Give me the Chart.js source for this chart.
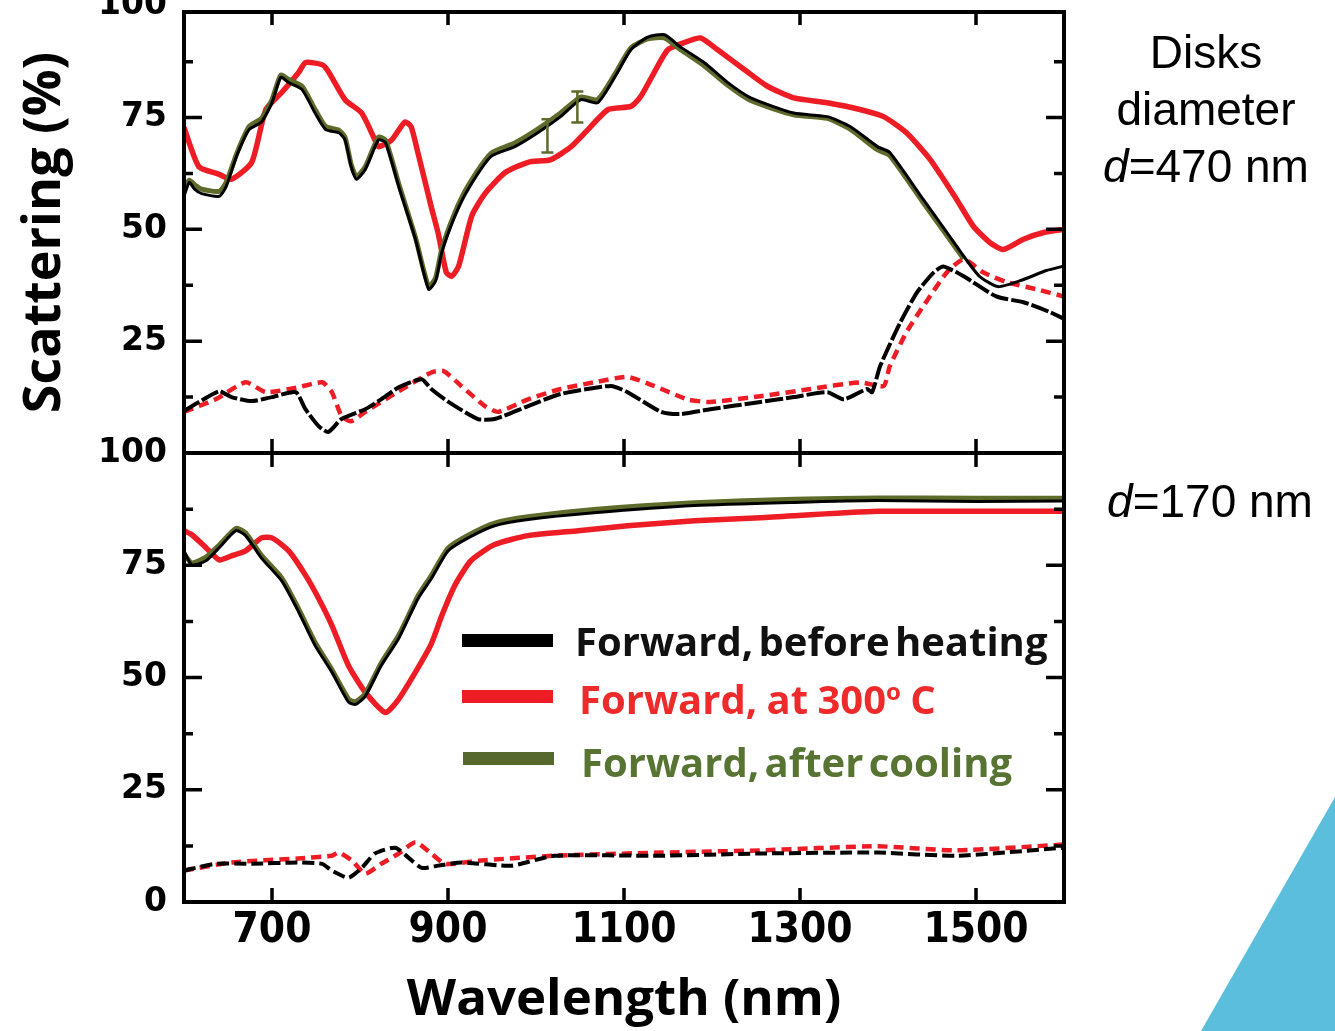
<!DOCTYPE html>
<html>
<head>
<meta charset="utf-8">
<script src="https://cdn.jsdelivr.net/npm/chart.js@4.4.1/dist/chart.umd.min.js"></script>
<style>
    body { margin: 0; background: #fff; }
    #wrap { position: relative; width: 1335px; height: 1031px; overflow: hidden; background: #fff; }
    #scatterChart { position: absolute; left: 0; top: 0; }
    .note { position: absolute; width: 252px; text-align: center; font-family: 'Liberation Sans', Arial, sans-serif; font-size: 46px; line-height: 57px; color: #000; }
    .key { position: absolute; font-family: 'Open Sans', sans-serif; font-weight: 700; font-size: 40px; line-height: 1; white-space: nowrap; }
    .key sup { font-size: 24px; vertical-align: 14px; line-height: 0; }
    .swatch { position: absolute; width: 91px; height: 13px; }
    #corner { position: absolute; left: 1201px; top: 797px; width: 134px; height: 234px; background: #5bbedc; clip-path: polygon(100% 0, 0 100%, 100% 100%); }
</style>
</head>
<body>
<div id="wrap">
    <canvas id="scatterChart" width="1335" height="1031"></canvas>

    <div class="note" style="left:1080px; top:24px;">Disks<br>diameter<br><i>d</i>=470 nm</div>
    <div class="note" style="left:1084px; top:473px;"><i>d</i>=170 nm</div>

    <div class="swatch" style="left:462px; top:634px; background:#000;"></div>
    <div class="key" style="left:575px; top:621px; color:#111; word-spacing:-5px;">Forward, before heating</div>
    <div class="swatch" style="left:462px; top:690px; background:#ee1d25;"></div>
    <div class="key" style="left:579px; top:679px; color:#ee2a2a; word-spacing:-1px;">Forward, at 300<sup>o</sup> C</div>
    <div class="swatch" style="left:463px; top:752px; background:#56682d;"></div>
    <div class="key" style="left:581px; top:742px; color:#587433; word-spacing:-5px;">Forward, after cooling</div>

    <div id="corner"></div>
</div>

<script>
// wavelength (nm), scattering (%) pairs
// disks d = 470 nm
var top470Before = [[600, 57.4], [606, 60.5], [612, 59], [620, 58], [640, 57.4], [648, 59.6], [660, 66.5], [674, 72.3],
    [688, 74], [700, 78.3], [710, 84], [719, 82.8], [734, 81.3], [749, 76], [761, 72.3], [776, 71.6], [783, 70],
    [790, 64], [796, 61.2], [806, 63.4], [821, 70], [829, 69.4], [844, 59.6], [863, 47.8], [878, 36.6], [886, 38.5],
    [893, 44.9], [908, 53], [923, 59], [949, 66.3], [976, 68.5], [1002, 71.6], [1028, 75.2], [1051, 79], [1070, 78.3],
    [1090, 84.2], [1108, 90.2], [1127, 93], [1146, 93.5], [1164, 90.8], [1191, 87.3], [1218, 82.8], [1244, 79.4],
    [1293, 76], [1331, 75.2], [1357, 73], [1388, 68.5], [1402, 67.2], [1440, 56.7], [1467, 49.3], [1486, 44],
    [1504, 39.5], [1525, 37.2], [1554, 38.8], [1580, 40.8], [1600, 41.8]];
var top470Heated = [[600, 72.8], [617, 64], [640, 62.3], [654, 61.2], [677, 65], [693, 76.8], [711, 80.6], [730, 85],
    [738, 87.3], [757, 86.8], [764, 85.3], [783, 79], [802, 76], [817, 70], [821, 68.5], [836, 70], [851, 74], [858, 73],
    [866, 67], [881, 55], [889, 49], [898, 40.4], [904, 39.5], [912, 41.7], [927, 53], [942, 58], [965, 62.7], [991, 65],
    [1017, 65.6], [1040, 68.5], [1059, 72.3], [1082, 76.8], [1108, 77.5], [1119, 79.7], [1138, 86.4], [1150, 90.2],
    [1172, 92], [1187, 92.8], [1206, 90.2], [1237, 85.7], [1263, 82], [1293, 79.4], [1331, 78.3], [1368, 76.8],
    [1395, 75.2], [1421, 71.6], [1448, 65.6], [1478, 56.7], [1497, 50.7], [1516, 47], [1531, 45.5], [1554, 47.8],
    [1577, 49.3], [1600, 50]];
var top470Cooled = [[600, 59], [606, 61], [612, 60], [620, 59], [640, 58.5], [648, 60.5], [660, 67], [674, 73],
    [688, 74.8], [700, 79], [710, 84.5], [719, 83.5], [734, 82], [749, 76.8], [761, 73], [776, 72.2], [783, 70.6],
    [790, 64.5], [796, 61.8], [806, 64], [821, 70.6], [829, 70], [844, 60.2], [863, 48.2], [878, 37.2], [886, 39.2],
    [893, 45.6], [908, 53.8], [923, 59.8], [949, 67], [976, 69.3], [1002, 72.4], [1028, 76], [1051, 79.6], [1070, 79],
    [1090, 84.8], [1108, 90.6], [1127, 92.6], [1146, 92.8], [1164, 90.2], [1191, 86.6], [1218, 82.2], [1244, 78.8],
    [1293, 75.6], [1331, 74.8], [1357, 72.4], [1388, 67.8], [1402, 66.5], [1440, 56], [1467, 48.6], [1486, 43.4]];
var top470BeforeLow = [[600, 9.4], [617, 11.4], [640, 13.8], [654, 12.5], [677, 11.6], [700, 12.5], [727, 13.6],
    [738, 9.8], [753, 6], [764, 4.7], [779, 7.6], [806, 9.8], [824, 12], [844, 14.7], [870, 16.5], [881, 14.3],
    [900, 11.5], [934, 7.6], [953, 7.6], [991, 10.5], [1028, 13.2], [1085, 15], [1104, 13.6], [1142, 9.2], [1164, 8.7],
    [1198, 9.8], [1255, 11.4], [1293, 12.5], [1331, 13.6], [1350, 12], [1376, 14.3], [1382, 13.6], [1391, 19.4],
    [1414, 29.2], [1433, 35.9], [1452, 40.4], [1463, 41.7], [1486, 39.5], [1523, 35], [1554, 33.7], [1584, 31.5],
    [1600, 30]];
var top470HeatedLow = [[600, 9.2], [636, 12], [670, 15.8], [693, 13.6], [730, 14.7], [757, 15.8], [768, 13.6],
    [779, 8.3], [790, 7.1], [806, 9.2], [844, 13.8], [881, 18], [895, 18.3], [915, 15], [942, 10.5], [957, 9.2],
    [991, 12], [1028, 14.3], [1066, 15.8], [1104, 17], [1134, 15], [1172, 12], [1198, 11.4], [1255, 12.7], [1312, 14.3],
    [1368, 15.8], [1395, 15], [1402, 19.4], [1421, 27], [1440, 32.8], [1467, 40.4], [1486, 43.3], [1508, 40.4],
    [1535, 38.2], [1569, 36.6], [1600, 35]];

// disks d = 170 nm
var bot170Before = [[600, 78.2], [609, 75], [625, 76], [640, 78.9], [659, 82.7], [670, 81.6], [688, 76.6], [711, 71.5],
    [730, 64.7], [749, 57.1], [768, 51.2], [787, 44.5], [795, 44], [806, 45.8], [824, 52.6], [844, 58.7], [866, 67.6],
    [881, 72], [900, 78.2], [923, 81.1], [953, 83.8], [991, 85.2], [1066, 86.7], [1180, 88.3], [1293, 89], [1388, 89.4],
    [1500, 89.2], [1600, 89.3]];
var bot170Heated = [[600, 82.7], [609, 81.8], [625, 78.9], [640, 76.2], [654, 77.1], [670, 78.2], [688, 81.1],
    [700, 81.1], [719, 78.2], [738, 72.8], [753, 67.6], [768, 61.6], [787, 52.6], [806, 46.7], [829, 42.2], [844, 45.2],
    [863, 51.2], [881, 57.5], [893, 63.8], [908, 70.6], [926, 76], [953, 79.6], [991, 81.6], [1048, 82.7], [1104, 83.8],
    [1180, 84.9], [1255, 85.6], [1388, 87], [1500, 87], [1600, 87]];
var bot170Cooled = [[600, 77.5], [609, 75.5], [625, 76.8], [640, 79.5], [659, 83.2], [670, 82.2], [688, 77.2],
    [711, 72.2], [730, 65.4], [749, 57.8], [768, 51.8], [787, 45.2], [795, 44.6], [806, 46.4], [824, 53.2], [844, 59.4],
    [866, 68.2], [881, 72.7], [900, 78.8], [923, 81.7], [953, 84.4], [991, 85.8], [1066, 87.4], [1180, 88.9],
    [1293, 89.7], [1388, 90], [1500, 89.9], [1600, 89.9]];
var bot170BeforeLow = [[600, 7], [636, 8.5], [677, 8.5], [730, 8.8], [757, 8.5], [768, 7], [787, 5.4], [802, 7.6],
    [817, 10.8], [840, 12.1], [855, 9.9], [870, 7.6], [889, 8.1], [915, 8.8], [972, 8.1], [1021, 10.3], [1142, 10.3],
    [1255, 10.8], [1388, 11], [1478, 10.3], [1600, 12.1]];
var bot170HeatedLow = [[600, 7], [654, 8.8], [730, 9.7], [768, 10.3], [776, 11], [791, 9.2], [806, 6.3], [824, 8.5],
    [844, 10.8], [863, 13.3], [881, 10.8], [897, 8.5], [934, 9.2], [1021, 10.3], [1142, 11], [1255, 11.5], [1388, 12.4],
    [1478, 11.5], [1600, 12.8]];

// error bars on the cooled d=470 curve
var coolErrNm = [1013, 1047];
var coolErrLow = [67.2, 73.9];
var coolErrHigh = [74.6, 80.8];

var xTicks = [700, 900, 1100, 1300, 1500];
var yTicksTop = [25, 50, 75, 100];
var yTicksBottom = [0, 25, 50, 75, 100];
var yMajorMarks = [25, 50, 75];
var yMinorMarks = [12.5, 37.5, 62.5, 87.5];

var RED = '#ee1d25';
var OLIVE = '#5e6b2a';

function pts(arr) {
    return arr.map(p => ({ x: p[0], y: p[1] }));
}

function serie(arr, axis, color, width, dash) {
    return {
        data: pts(arr),
        yAxisID: axis,
        borderColor: color,
        borderWidth: width,
        borderDash: dash || [],
        pointRadius: 0,
        tension: 0.2,
        fill: false
    };
}

// box around both panels, divider and inward tick marks
var panelFrame = {
    id: 'panelFrame',
    afterDraw(chart) {
        var ctx = chart.ctx;
        var a = chart.chartArea;
        var x = chart.scales.x, yTop = chart.scales.yTop, yBot = chart.scales.yBot;
        ctx.save();
        ctx.strokeStyle = '#000';
        ctx.lineWidth = 4;
        ctx.strokeRect(a.left, a.top, a.right - a.left, a.bottom - a.top);
        ctx.beginPath();
        ctx.moveTo(a.left, yBot.top);
        ctx.lineTo(a.right, yBot.top);
        ctx.stroke();

        ctx.lineWidth = 3.5;
        ctx.beginPath();
        [yTop, yBot].forEach(function (s) {
            yMajorMarks.forEach(function (v) {
                var py = s.getPixelForValue(v);
                ctx.moveTo(a.left, py); ctx.lineTo(a.left + 18, py);
                ctx.moveTo(a.right, py); ctx.lineTo(a.right - 18, py);
            });
            yMinorMarks.forEach(function (v) {
                var py = s.getPixelForValue(v);
                ctx.moveTo(a.left, py); ctx.lineTo(a.left + 9, py);
                ctx.moveTo(a.right, py); ctx.lineTo(a.right - 10, py);
            });
        });
        xTicks.forEach(function (v) {
            var px = x.getPixelForValue(v);
            ctx.moveTo(px, a.top); ctx.lineTo(px, a.top + 13);
            ctx.moveTo(px, yBot.top - 14); ctx.lineTo(px, yBot.top + 14);
            ctx.moveTo(px, a.bottom); ctx.lineTo(px, a.bottom - 14);
        });
        ctx.stroke();
        ctx.restore();
    }
};

var errorBars = {
    id: 'errorBars',
    afterDatasetsDraw(chart) {
        var ctx = chart.ctx;
        var x = chart.scales.x, yTop = chart.scales.yTop;
        ctx.save();
        ctx.strokeStyle = OLIVE;
        ctx.lineWidth = 2.5;
        coolErrNm.forEach(function (nm, i) {
            var px = x.getPixelForValue(nm);
            var p1 = yTop.getPixelForValue(coolErrLow[i]);
            var p2 = yTop.getPixelForValue(coolErrHigh[i]);
            ctx.beginPath();
            ctx.moveTo(px, p1); ctx.lineTo(px, p2);
            ctx.moveTo(px - 6, p1); ctx.lineTo(px + 6, p1);
            ctx.moveTo(px - 6, p2); ctx.lineTo(px + 6, p2);
            ctx.stroke();
        });
        ctx.restore();
    }
};

var tickFont = { family: "'DejaVu Sans', sans-serif", weight: 'bold', size: 33 };

function noPadding(s) {
    s.paddingTop = 0;
    s.paddingBottom = 0;
    s.paddingLeft = 0;
    s.paddingRight = 0;
}

var ctx = document.getElementById('scatterChart').getContext('2d');
var scatterChart = new Chart(ctx, {
    type: 'line',
    data: {
        datasets: [
            serie(top470Before, 'yTop', '#000', 3),
            serie(top470Cooled, 'yTop', OLIVE, 5),
            serie(top470Heated, 'yTop', RED, 5.5),
            serie(top470BeforeLow, 'yTop', '#000', 4, [18, 3]),
            serie(top470HeatedLow, 'yTop', RED, 4.5, [10, 6]),
            serie(bot170Before, 'yBot', '#000', 3),
            serie(bot170Cooled, 'yBot', OLIVE, 5),
            serie(bot170Heated, 'yBot', RED, 5.5),
            serie(bot170BeforeLow, 'yBot', '#000', 4, [12, 5]),
            serie(bot170HeatedLow, 'yBot', RED, 4.5, [10, 6])
        ]
    },
    options: {
        responsive: false,
        devicePixelRatio: 1,
        animation: false,
        layout: { padding: { top: 12, right: 271, left: 0, bottom: 0 } },
        plugins: {
            legend: { display: false },
            tooltip: { enabled: false }
        },
        scales: {
            x: {
                type: 'linear',
                min: 600,
                max: 1600,
                grid: { display: false, drawTicks: false },
                border: { display: false },
                afterBuildTicks: function (s) { s.ticks = xTicks.map(v => ({ value: v })); },
                afterFit: function (s) { s.height = 129; noPadding(s); },
                ticks: {
                    padding: 4,
                    color: '#000',
                    maxRotation: 0,
                    autoSkip: false,
                    font: { family: "'Liberation Sans Narrow', 'DejaVu Sans Condensed', 'Liberation Sans', sans-serif", weight: 'bold', size: 42 },
                    callback: function (v) { return String(v); }
                },
                title: {
                    display: true,
                    text: 'Wavelength (nm)',
                    color: '#000',
                    font: { family: "'Open Sans', sans-serif", weight: 'bold', size: 51 },
                    padding: { top: 0, bottom: 0 }
                }
            },
            yBot: {
                type: 'linear',
                position: 'left',
                stack: 'panels',
                stackWeight: 449,
                min: 0,
                max: 100,
                grid: { display: false, drawTicks: false },
                border: { display: false },
                afterBuildTicks: function (s) { s.ticks = yTicksBottom.map(v => ({ value: v })); },
                afterFit: function (s) { s.width = 184; noPadding(s); },
                ticks: { padding: 17, color: '#000', font: tickFont, autoSkip: false }
            },
            yTop: {
                type: 'linear',
                position: 'left',
                stack: 'panels',
                stackWeight: 441,
                min: 0,
                max: 98.6,
                grid: { display: false, drawTicks: false },
                border: { display: false },
                afterBuildTicks: function (s) { s.ticks = yTicksTop.map(v => ({ value: v })); },
                afterFit: function (s) { s.width = 184; noPadding(s); },
                ticks: { padding: 17, color: '#000', font: tickFont, autoSkip: false },
                title: {
                    display: true,
                    text: 'Scattering (%)',
                    color: '#000',
                    font: { family: "'Open Sans', sans-serif", weight: 'bold', size: 52 },
                    padding: { top: 14, bottom: 0 }
                }
            }
        }
    },
    plugins: [errorBars, panelFrame]
});
</script>
</body>
</html>
